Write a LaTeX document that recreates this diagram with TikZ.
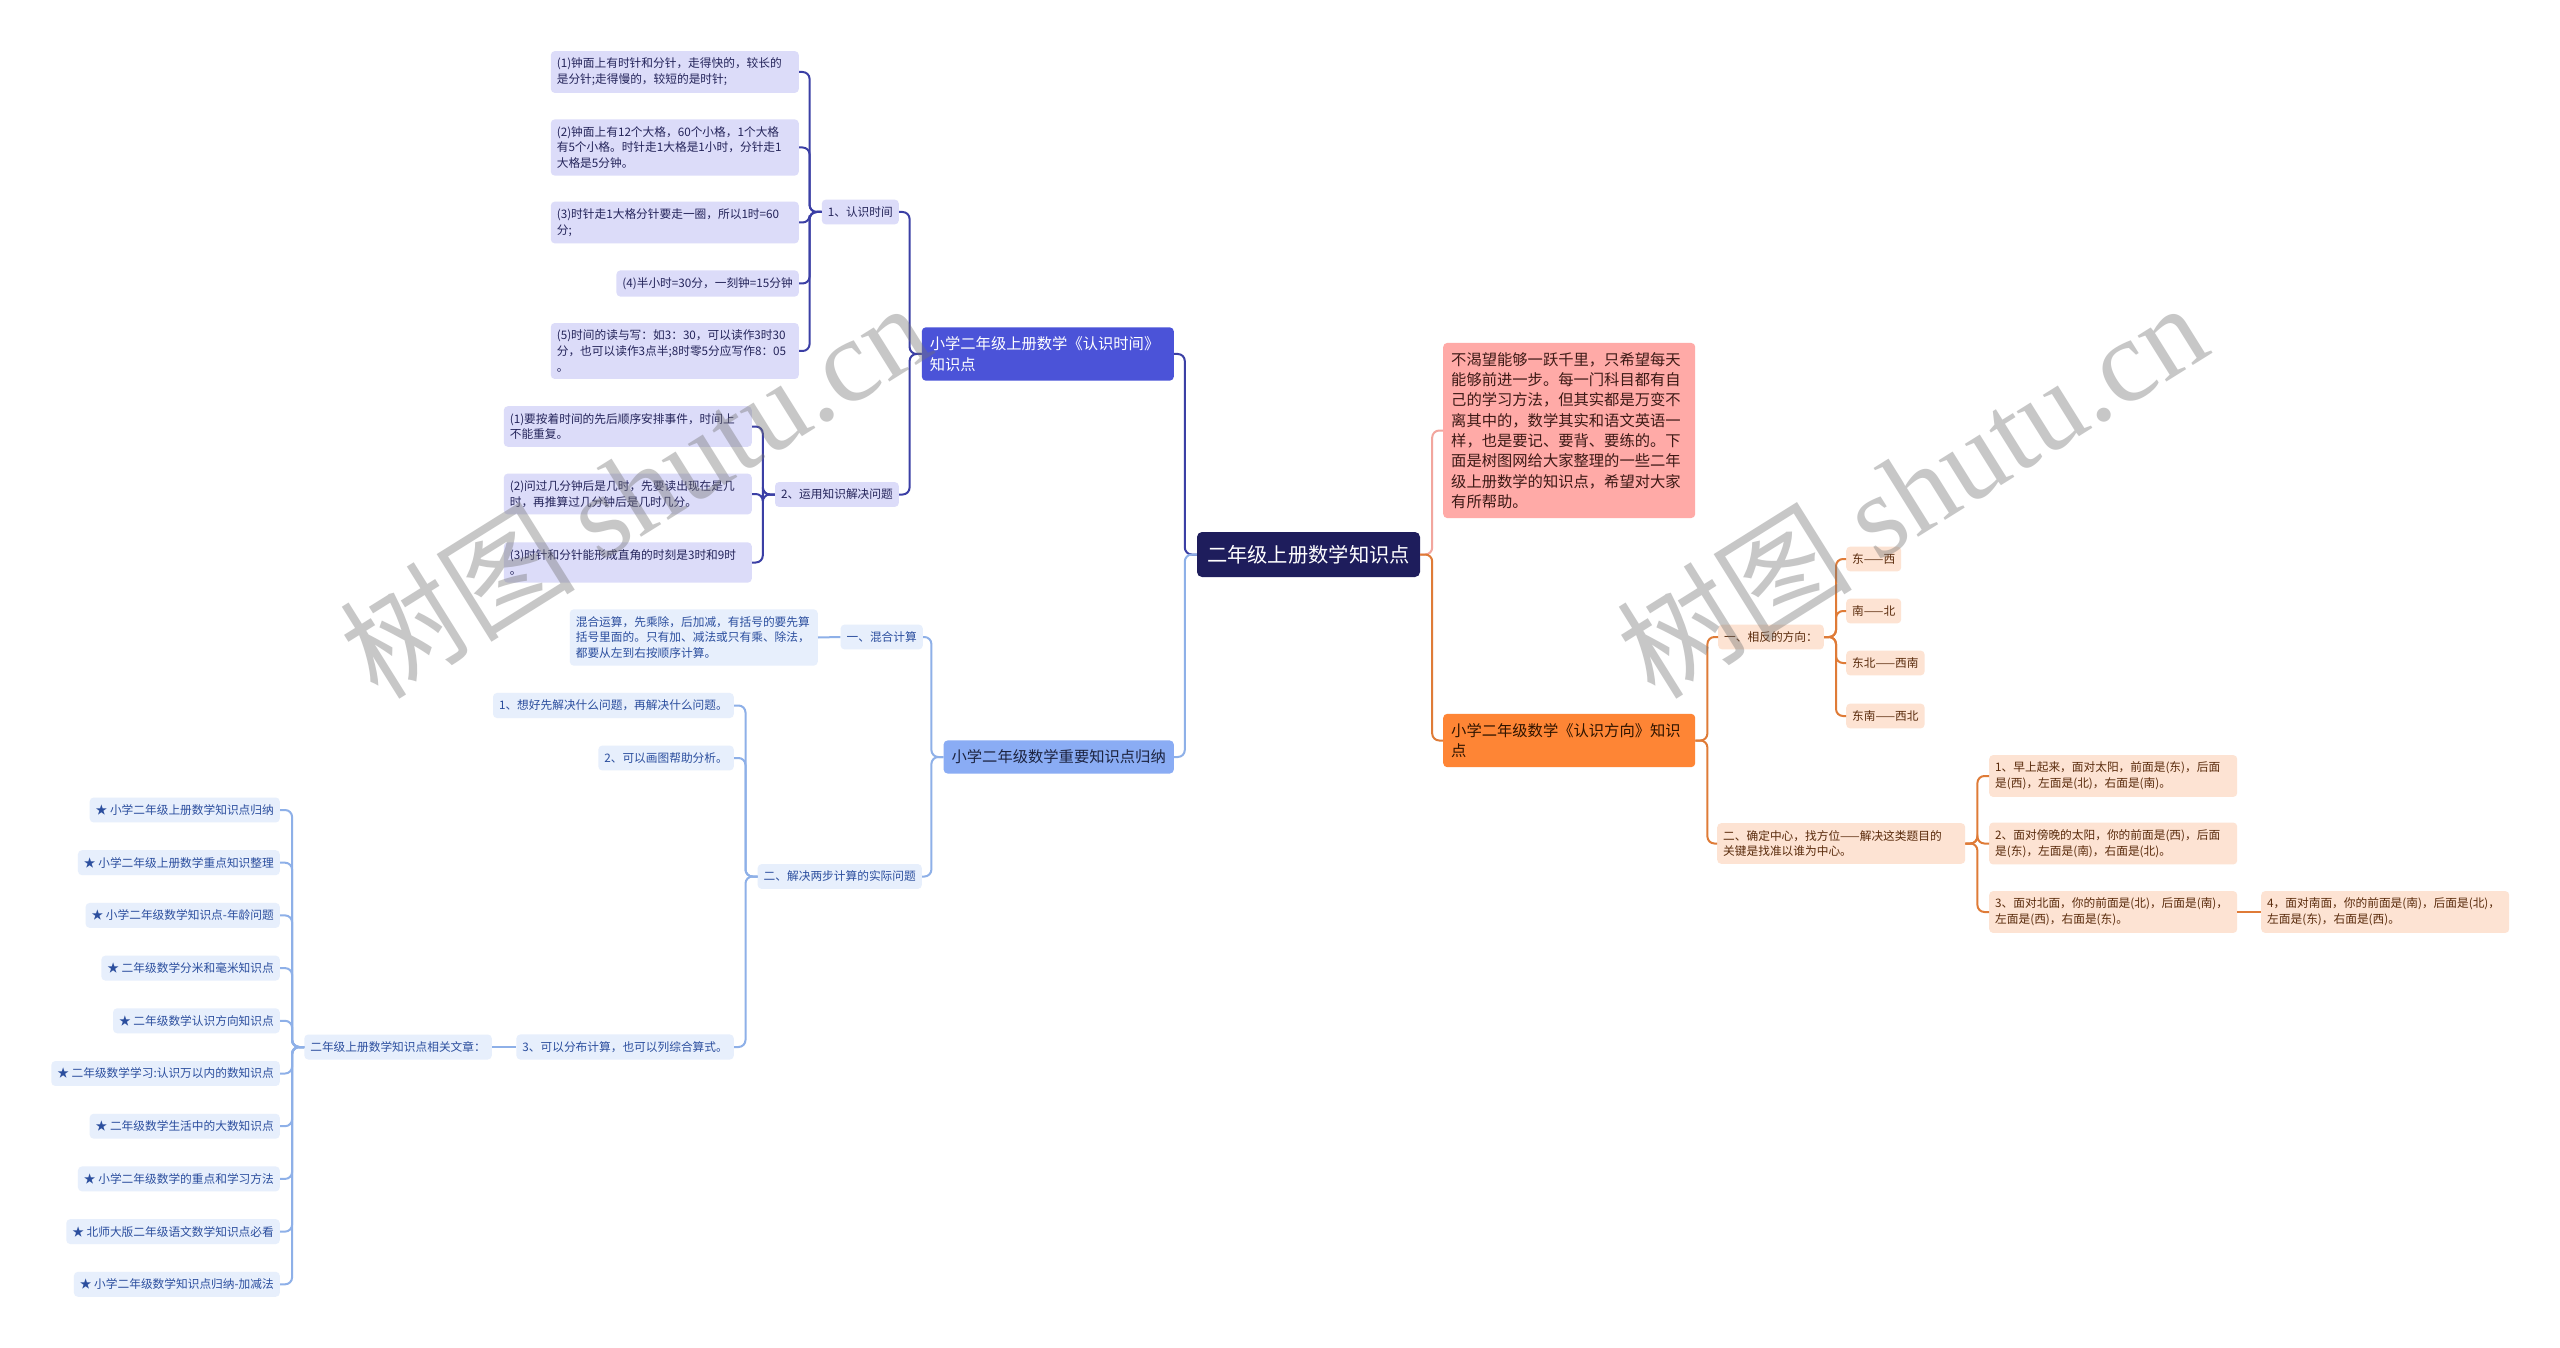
\documentclass[tikz,border=0pt]{standalone}
\usepackage{fontspec}
\setmainfont{Noto Sans CJK SC}
\newfontfamily\wmfont{Liberation Serif}
\usetikzlibrary{positioning,calc}

\definecolor{rootc}{HTML}{1E1D5C}
\definecolor{timec}{HTML}{4B53D8}
\definecolor{timeline}{HTML}{3B3FA5}
\definecolor{timelight}{HTML}{DCDCF9}
\definecolor{timetext}{HTML}{24245A}
\definecolor{sumc}{HTML}{8AACF4}
\definecolor{sumline}{HTML}{8EB0E8}
\definecolor{sumlight}{HTML}{E7EFFC}
\definecolor{sumtext}{HTML}{1C2340}
\definecolor{sumitemtext}{HTML}{2B4E9E}
\definecolor{notec}{HTML}{FFAAA7}
\definecolor{notetext}{HTML}{3D1A16}
\definecolor{noteline}{HTML}{F2A69E}
\definecolor{dirc}{HTML}{FE8535}
\definecolor{dirtext}{HTML}{2E1400}
\definecolor{dirline}{HTML}{DF7B37}
\definecolor{dirlight}{HTML}{FDE3D3}
\definecolor{diritemtext}{HTML}{5A2B0C}

\begin{document}
\begin{tikzpicture}[
    x=1pt, y=-1pt,
    rootbox/.style={
        rounded corners=5pt,
        fill=rootc,
        text=white,
        minimum width=223pt,
        minimum height=45pt,
        inner sep=0pt,
        font=\fontsize{20.3}{24}\selectfont
    },
    mainbox/.style={
        rounded corners=4pt,
        inner xsep=8pt,
        inner ysep=9.4pt,
        align=left,
        font=\fontsize{15.3}{20.3}\selectfont
    },
    itembox/.style={
        rounded corners=4pt,
        inner xsep=6pt,
        inner ysep=7pt,
        align=left,
        font=\fontsize{11.7}{15.7}\selectfont
    },
    wide/.style={text width=236pt},
    timebox/.style={mainbox, fill=timec, text=white, text width=236pt},
    sumbox/.style={mainbox, fill=sumc, text=sumtext},
    notebox/.style={mainbox, fill=notec, text=notetext, text width=236pt},
    dirbox/.style={mainbox, fill=dirc, text=dirtext, text width=236pt},
    timeitem/.style={itembox, fill=timelight, text=timetext},
    sumitem/.style={itembox, fill=sumlight, text=sumitemtext},
    diritem/.style={itembox, fill=dirlight, text=diritemtext},
    lconn/.style={line width=2pt, rounded corners=7pt,
        to path={-| ([xshift=-12pt]\tikztotarget) [sharp corners] -- (\tikztotarget)}},
    rconn/.style={line width=2pt, rounded corners=7pt,
        to path={-| ([xshift=12pt]\tikztotarget) [sharp corners] -- (\tikztotarget)}},
    watermark/.style={text=black!55, text opacity=0.4, inner sep=0pt,
        font=\fontsize{118}{118}\selectfont}
]

\path[use as bounding box, fill=white] (0,0) rectangle (2560,1348);

% --- Nodo central ---
\node[rootbox] (root) at (1308.5, 554.5) {二年级上册数学知识点};

% --- Rama:认识时间 ---
\node[timebox, anchor=east] (shijian) at (1174, 354) {小学二年级上册数学《认识时间》\\知识点};
\node[timeitem, anchor=east] (rs) at (899, 212) {1、认识时间};
\node[timeitem, anchor=east] (yy) at (899, 494.5) {2、运用知识解决问题};

\node[timeitem, wide, anchor=east] (t1) at (799, 72) {(1)钟面上有时针和分针，走得快的，较长的\\是分针;走得慢的，较短的是时针;};
\node[timeitem, wide, anchor=east] (t2) at (799, 147.5) {(2)钟面上有12个大格，60个小格，1个大格\\有5个小格。时针走1大格是1小时，分针走1\\大格是5分钟。};
\node[timeitem, wide, anchor=east] (t3) at (799, 222.5) {(3)时针走1大格分针要走一圈，所以1时=60\\分;};
\node[timeitem, anchor=east] (t4) at (799, 283.5) {(4)半小时=30分，一刻钟=15分钟};
\node[timeitem, wide, anchor=east] (t5) at (799, 351) {(5)时间的读与写：如3：30，可以读作3时30\\分，也可以读作3点半;8时零5分应写作8：05\\。};

\node[timeitem, wide, anchor=east] (u1) at (752, 426.5) {(1)要按着时间的先后顺序安排事件，时间上\\不能重复。};
\node[timeitem, wide, anchor=east] (u2) at (752, 494) {(2)问过几分钟后是几时，先要读出现在是几\\时，再推算过几分钟后是几时几分。};
\node[timeitem, wide, anchor=east] (u3) at (752, 562.5) {(3)时针和分针能形成直角的时刻是3时和9时\\。};

\draw[lconn, draw=timeline] (shijian.east) to (root.west);
\draw[lconn, draw=timeline] (rs.east) to (shijian.west);
\draw[lconn, draw=timeline] (yy.east) to (shijian.west);
\foreach \k in {1,...,5}
    \draw[lconn, draw=timeline] (t\k.east) to (rs.west);
\foreach \k in {1,2,3}
    \draw[lconn, draw=timeline] (u\k.east) to (yy.west);

% --- Rama: 重要知识点归纳 ---
\node[sumbox, anchor=east] (guina) at (1174, 757) {小学二年级数学重要知识点归纳};
\node[sumitem, anchor=east] (hh) at (923, 637) {一、混合计算};
\node[sumitem, wide, anchor=east] (hhtext) at (818, 637.5) {混合运算，先乘除，后加减，有括号的要先算\\括号里面的。只有加、减法或只有乘、除法，\\都要从左到右按顺序计算。};
\node[sumitem, anchor=east] (lb) at (922, 876.5) {二、解决两步计算的实际问题};
\node[sumitem, anchor=east] (v1) at (734, 705.5) {1、想好先解决什么问题，再解决什么问题。};
\node[sumitem, anchor=east] (v2) at (734, 758) {2、可以画图帮助分析。};
\node[sumitem, anchor=east] (v3) at (734, 1047) {3、可以分布计算，也可以列综合算式。};
\node[sumitem, anchor=east] (wz) at (492, 1047) {二年级上册数学知识点相关文章：};

\draw[lconn, draw=sumline] (guina.east) to (root.west);
\draw[lconn, draw=sumline] (hh.east) to (guina.west);
\draw[lconn, draw=sumline] (lb.east) to (guina.west);
\draw[line width=2pt, draw=sumline] (hhtext.east) -- (hh.west);
\foreach \k in {1,2,3}
    \draw[lconn, draw=sumline] (v\k.east) to (lb.west);
\draw[line width=2pt, draw=sumline] (wz.east) -- (v3.west);

\foreach \txt [count=\i] in {小学二年级上册数学知识点归纳, 小学二年级上册数学重点知识整理,
    小学二年级数学知识点-年龄问题, 二年级数学分米和毫米知识点, 二年级数学认识方向知识点,
    二年级数学学习:认识万以内的数知识点, 二年级数学生活中的大数知识点,
    小学二年级数学的重点和学习方法, 北师大版二年级语文数学知识点必看,
    小学二年级数学知识点归纳-加减法}
{
    \node[sumitem, anchor=east] (s\i) at (280, {810+(\i-1)*52.7}) {★ \txt};
    \draw[lconn, draw=sumline] (s\i.east) to (wz.west);
}

% --- Nota introductoria ---
\node[notebox, anchor=west] (intro) at (1443, 430.5) {不渴望能够一跃千里，只希望每天\\能够前进一步。每一门科目都有自\\己的学习方法，但其实都是万变不\\离其中的，数学其实和语文英语一\\样，也是要记、要背、要练的。下\\面是树图网给大家整理的一些二年\\级上册数学的知识点，希望对大家\\有所帮助。};
\draw[rconn, draw=noteline] (intro.west) to (root.east);

% --- Rama: 认识方向 ---
\node[dirbox, anchor=west] (fx) at (1443, 740.5) {小学二年级数学《认识方向》知识\\点};
\node[diritem, anchor=west] (xf) at (1718, 637) {一、相反的方向：};
\node[diritem, anchor=west] (d1) at (1846, 559) {东——西};
\node[diritem, anchor=west] (d2) at (1846, 611) {南——北};
\node[diritem, anchor=west] (d3) at (1846, 663) {东北——西南};
\node[diritem, anchor=west] (d4) at (1846, 716) {东南——西北};
\node[diritem, wide, anchor=west] (qd) at (1717, 843.5) {二、确定中心，找方位——解决这类题目的\\关键是找准以谁为中心。};
\node[diritem, wide, anchor=west] (f1) at (1989, 776) {1、早上起来，面对太阳，前面是(东)，后面\\是(西)，左面是(北)，右面是(南)。};
\node[diritem, wide, anchor=west] (f2) at (1989, 843.5) {2、面对傍晚的太阳，你的前面是(西)，后面\\是(东)，左面是(南)，右面是(北)。};
\node[diritem, wide, anchor=west] (f3) at (1989, 912) {3、面对北面，你的前面是(北)，后面是(南)，\\左面是(西)，右面是(东)。};
\node[diritem, wide, anchor=west] (f4) at (2261, 912) {4，面对南面，你的前面是(南)，后面是(北)，\\左面是(东)，右面是(西)。};

\draw[rconn, draw=dirline] (fx.west) to (root.east);
\draw[rconn, draw=dirline] (xf.west) to (fx.east);
\draw[rconn, draw=dirline] (qd.west) to (fx.east);
\foreach \k in {1,...,4}
    \draw[rconn, draw=dirline] (d\k.west) to (xf.east);
\foreach \k in {1,2,3}
    \draw[rconn, draw=dirline] (f\k.west) to (qd.east);
\draw[line width=2pt, draw=dirline] (f3.east) -- (f4.west);

% --- Marca de agua ---
\node[watermark, rotate=32, anchor=base west] (wm1) at (378, 702) {树图 {\wmfont shutu.cn}};
\node[watermark, rotate=32, anchor=base west] (wm2) at (1655, 702) {树图 {\wmfont shutu.cn}};

\end{tikzpicture}
\end{document}
